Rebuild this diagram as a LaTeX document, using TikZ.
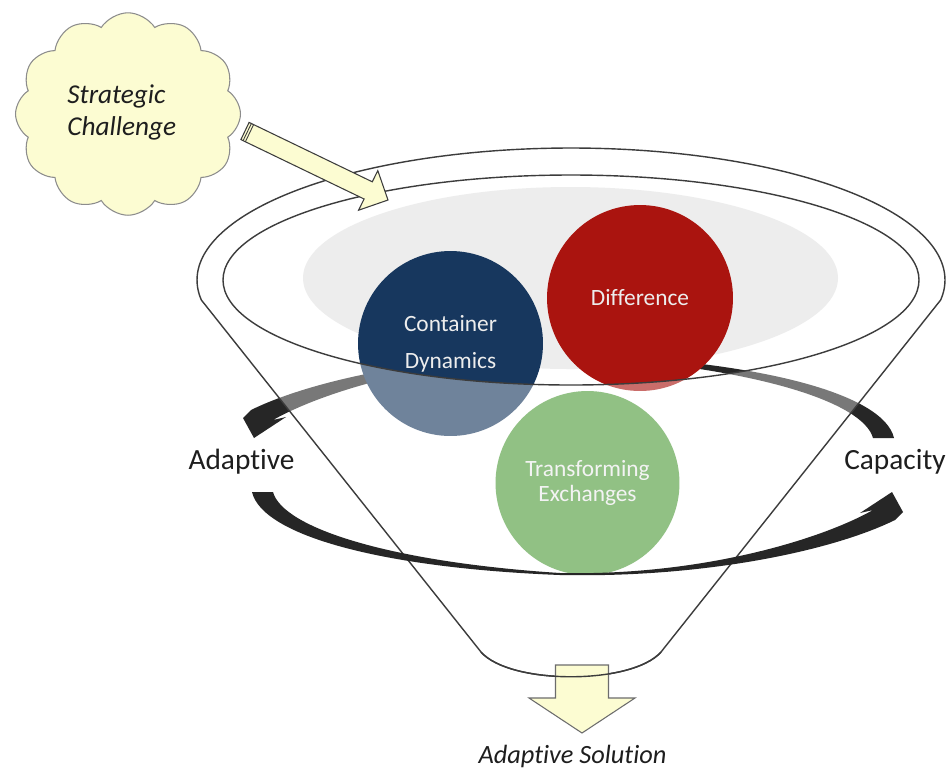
\documentclass[tikz,border=0pt]{standalone}
\usepackage{fontspec}
\setmainfont{Carlito}[Ligatures=NoCommon]
\usetikzlibrary{shapes.symbols}
\definecolor{navy}{RGB}{23,55,94}
\definecolor{crimson}{RGB}{170,20,15}
\definecolor{leaf}{RGB}{79,155,58}
\definecolor{mist}{RGB}{237,237,237}
\definecolor{cream}{RGB}{252,252,210}
\definecolor{ink}{RGB}{30,30,30}
\definecolor{rim}{RGB}{60,60,60}
\definecolor{swirl}{RGB}{38,38,38}
\definecolor{puffline}{RGB}{140,140,140}
\tikzset{
  ball/.style={circle, minimum size=#1, inner sep=0pt, align=center, text=white!93!black},
  rimline/.style={draw=rim, line width=0.8pt},
  sidelabel/.style={text=ink, anchor=base, font=\fontsize{16.7}{20}\selectfont},
  blockarrow/.style={fill=cream, line width=0.6pt},
  % tapered half-ring arrow, drawn around the centre of the rotation
  ringarrow/.pic={
    \fill[swirl] (-321,27) .. controls (-311,70) and (-193,103) .. (-13,110)
      .. controls (127,113) and (257,87) .. (322,55)
      -- (330,47) -- (319,27) -- (287,48) -- (300,45)
      .. controls (247,75) and (127,111) .. (-13,108)
      .. controls (-183,97) and (-290,63) .. (-300,27) -- cycle;
  }
}
\begin{document}
\begin{tikzpicture}[x=0.02cm, y=-0.02cm]
\fill[white] (0,0) rectangle (950,772);
\path[use as bounding box] (0,0) rectangle (950,772);

% haze inside the mouth of the funnel
\fill[mist] (570.5,278) ellipse[x radius=267.5, y radius=91];

% back half of the rotation ring, hidden where it passes behind the balls
\begin{scope}[even odd rule]
  \clip (0,0) rectangle (950,772) (536,336) rectangle (574,374);
  \pic[rotate=180] (backswirl) at (573,465) {ringarrow};
\end{scope}

% the three ingredients
\node[ball=3.7cm, fill=navy, font=\fontsize{13.3}{21}\selectfont] (cd) at (450.5,343.5) {Container\\Dynamics};
\node[ball=3.72cm, fill=crimson, font=\fontsize{13.3}{16}\selectfont] (diff) at (640,298) {Difference};
\node[ball=3.68cm, fill=leaf, font=\fontsize{13.3}{14.2}\selectfont] (tex) at (587.5,483) {Transforming\\Exchanges};

% funnel body: translucent wall with the open mouth cut out, plus its outlines
\path[fill=white, fill opacity=0.38, draw=rim, line width=0.8pt, even odd rule]
  plot[domain=171.3:368.7, samples=80, smooth] ({571+374*cos(\x)}, {280+132*sin(\x)})
  -- (661,652) .. controls (632,685) and (510,685) .. (481,652) -- cycle
  (571,280) ellipse[x radius=348, y radius=105];

% outlet arrow
\filldraw[blockarrow, draw=gray!85!black] (555.5,665) -- (608.5,665) -- (608.5,698) -- (635,698)
  -- (582,733) -- (529,698) -- (555.5,698) -- cycle;
\draw[rimline] (661,652) .. controls (632,685) and (510,685) .. (481,652);

% front half of the rotation ring
\pic (frontswirl) at (573,465) {ringarrow};

% challenge cloud and its arrow into the funnel
\node[cloud, cloud puffs=12, cloud puff arc=115, aspect=1.1, draw=puffline, fill=cream,
      line width=0.6pt, minimum width=4.5cm, minimum height=4.05cm, inner sep=0pt] (cloud) at (128,114) {};
\filldraw[blockarrow, draw=rim] (249.1,122.4) -- (372.3,181.8) -- (377.8,170.6) -- (388,200)
  -- (358.6,210.2) -- (364.1,199.0) -- (240.9,139.6) -- cycle;
\draw[rim, line width=0.5pt] (251.4,123.5) -- (243.1,140.6) (253.6,124.6) -- (245.4,141.7);

\node[text=ink, align=left, anchor=north west, inner sep=0pt,
      font=\fontsize{15.5}{18.7}\selectfont\itshape] (challenge) at (67,84) {Strategic\\Challenge};

% labels
\node[sidelabel] (adaptive) at (241.5,469) {Adaptive};
\node[sidelabel] (capacity) at (895,469) {Capacity};
\node[text=ink, anchor=base, font=\fontsize{15}{18}\selectfont\itshape] (solution) at (572.5,763) {Adaptive Solution};
\end{tikzpicture}
\end{document}
